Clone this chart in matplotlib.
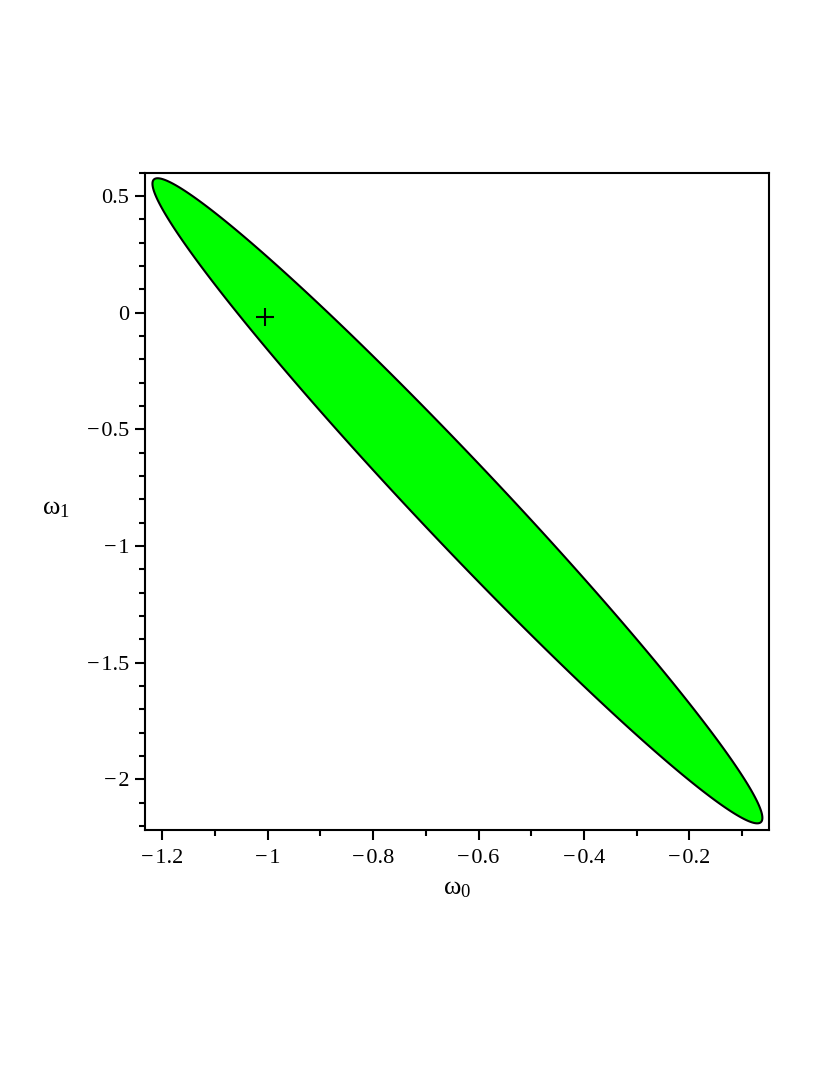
import numpy as np
import matplotlib
matplotlib.use("Agg")
import matplotlib.pyplot as plt
from matplotlib.patches import Polygon
from matplotlib.ticker import MultipleLocator

plt.rcParams['font.family'] = ['Liberation Serif', 'DejaVu Serif']
plt.rcParams['mathtext.fontset'] = 'custom'
plt.rcParams['mathtext.rm'] = 'Liberation Serif'
plt.rcParams['mathtext.it'] = 'Liberation Serif'

# confidence region: (w - center)^T inv(cov) (w - center) <= 1
center = [-0.640, -0.806]
cov = [[0.33506, -0.78662],
       [-0.78662, 1.91115]]
estimate = [-1.005, -0.02]

xticks = [-1.2, -1.0, -0.8, -0.6, -0.4, -0.2]
xticklabels = ["\u2212\u200a1.2", "\u2212\u200a1", "\u2212\u200a0.8", "\u2212\u200a0.6", "\u2212\u200a0.4", "\u2212\u200a0.2"]
yticks = [0.5, 0.0, -0.5, -1.0, -1.5, -2.0]
yticklabels = ["0.5", "0", "\u2212\u200a0.5", "\u2212\u200a1", "\u2212\u200a1.5", "\u2212\u200a2"]

fig = plt.figure(figsize=(8.3, 10.75), dpi=100)
ax = fig.add_axes([0.1747, 0.2279, 0.7522, 0.6114])

t = np.linspace(0, 2 * np.pi, 400)
L = np.linalg.cholesky(np.array(cov))
pts = np.array(center)[:, None] + L @ np.vstack([np.cos(t), np.sin(t)])
ax.add_patch(Polygon(pts.T, closed=True, facecolor='#00ff00', edgecolor='black', linewidth=1.5))
ax.plot([estimate[0]], [estimate[1]], marker='+', color='black', markersize=13, markeredgewidth=1.5)

ax.set_xlim(-1.233, -0.048)
ax.set_ylim(-2.217, 0.600)
ax.set_xticks(xticks)
ax.set_xticklabels(xticklabels)
ax.set_yticks(yticks)
ax.set_yticklabels(yticklabels)
ax.xaxis.set_minor_locator(MultipleLocator(0.1))
ax.yaxis.set_minor_locator(MultipleLocator(0.1))
ax.tick_params(which='both', direction='out', width=1.5, labelsize=16, top=False, right=False)
ax.tick_params(which='major', length=7.5)
ax.tick_params(which='minor', length=4)
ax.tick_params(axis='x', pad=6)
ax.tick_params(axis='y', pad=4)
for s in ax.spines.values():
    s.set_linewidth(1.5)

ax.set_xlabel(r'$\mathrm{\omega}_0$', fontsize=19, va='center', ha='center')
ax.xaxis.set_label_coords(0.5, -0.090)
ax.set_ylabel(r'$\mathrm{\omega}_1$', fontsize=19, rotation=0, va='center', ha='center')
ax.yaxis.set_label_coords(-0.143, 0.488)

fig.savefig("out.png", dpi=100)
